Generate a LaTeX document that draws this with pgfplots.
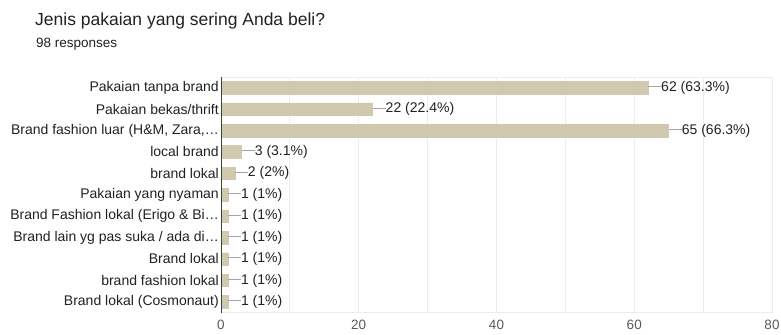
\documentclass[border=0pt]{standalone}
\usepackage{pgfplots}
\pgfplotsset{compat=1.18}
\usepackage{fontspec}
\setmainfont{Liberation Sans}
\definecolor{barc}{RGB}{209,200,176}
\definecolor{txt}{RGB}{33,33,33}
\definecolor{ticktxt}{RGB}{90,90,90}
\definecolor{gridc}{RGB}{236,236,236}
\newcommand{\lead}{\textcolor{gray!70}{\rule[0.32em]{13bp}{0.7bp}}}
\begin{document}
\begin{tikzpicture}
\useasboundingbox (0,0) rectangle (781bp,335bp);
\node[anchor=base west, inner sep=0, text=txt, font=\fontsize{17.5bp}{20bp}\selectfont] at (35bp,309bp) {Jenis pakaian yang sering Anda beli?};
\node[anchor=base west, inner sep=0, text=txt, font=\fontsize{13.5bp}{15bp}\selectfont] at (36bp,287bp) {98 responses};
\begin{axis}[
  at={(221bp,22.5bp)}, anchor=south west,
  scale only axis, width=551bp, height=235.5bp,
  xbar, bar width=12.5bp,
  xmin=0, xmax=80, ymin=-0.5, ymax=10.5,
  y dir=reverse,
  xtick={0,20,40,60,80},
  minor xtick={10,30,50,70},
  xmajorgrids, xminorgrids,
  major grid style={gridc, line width=0.8bp},
  minor grid style={gridc, line width=0.8bp},
  axis line style={gridc, line width=0.8bp},
  ytick={0,...,10},
  yticklabels={Pakaian tanpa brand, Pakaian bekas/thrift, {Brand fashion luar (H\&M, Zara,\ldots}, local brand, brand lokal, Pakaian yang nyaman, {Brand Fashion lokal (Erigo \& Bi\ldots}, {Brand lain yg pas suka / ada di\ldots}, Brand lokal, brand fashion lokal, Brand lokal (Cosmonaut)},
  major tick length=0, minor tick length=0,
  tick style={draw=none},
  /pgf/number format/assume math mode=true,
  yticklabel style={font=\fontsize{14bp}{16bp}\selectfont, text=txt, inner xsep=2bp},
  xticklabel style={font=\fontsize{13.5bp}{15bp}\selectfont, text=ticktxt, yshift=-4bp},
  point meta=explicit symbolic,
  nodes near coords,
  nodes near coords style={anchor=west, inner xsep=0pt, font=\fontsize{14bp}{16bp}\selectfont, text=txt},
  clip=false,
]
\addplot[fill=barc, draw=barc] table[meta=lab, col sep=semicolon] {
x;y;lab
62;0;\lead 62 (63.3\%)
22;1;\lead 22 (22.4\%)
65;2;\lead 65 (66.3\%)
3;3;\lead 3 (3.1\%)
2;4;\lead 2 (2\%)
1;5;\lead 1 (1\%)
1;6;\lead 1 (1\%)
1;7;\lead 1 (1\%)
1;8;\lead 1 (1\%)
1;9;\lead 1 (1\%)
1;10;\lead 1 (1\%)
};
\draw[black!75, line width=1bp] (rel axis cs:0,0) -- (rel axis cs:0,1);
\end{axis}
\end{tikzpicture}
\end{document}
